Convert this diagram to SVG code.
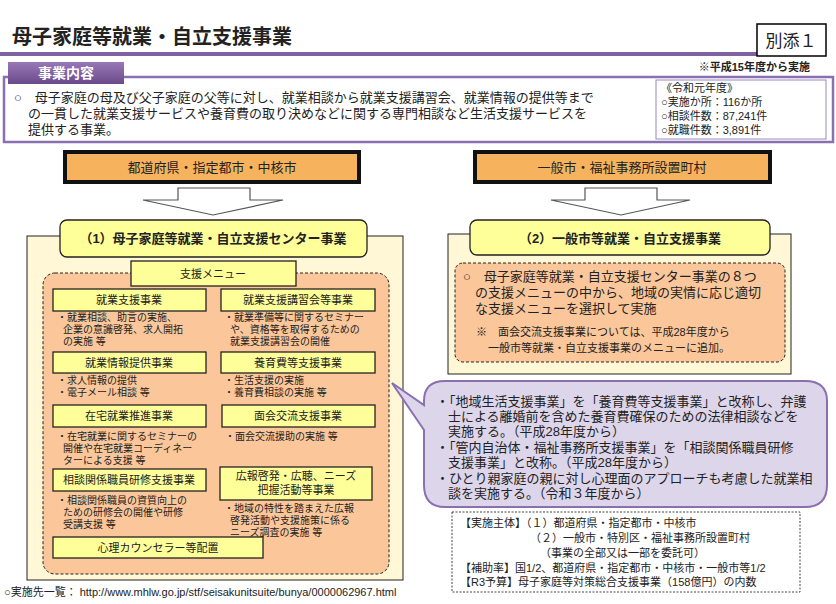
<svg xmlns="http://www.w3.org/2000/svg" width="836" height="604" viewBox="0 0 836 604">
<style>
text{font-family:"Liberation Sans","Noto Sans CJK JP",sans-serif;fill:#222}
.m{font-size:13px}
.s{font-size:10px}
.c{text-anchor:middle}
.yb{fill:#ffff99;stroke:#222;stroke-width:1.3}
.ob{fill:#f7b25e;stroke:#111;stroke-width:4}
.arr{fill:#fff;stroke:#555;stroke-width:1.2}
</style>
<defs>
<linearGradient id="tab" x1="0" y1="0" x2="0" y2="1"><stop offset="0" stop-color="#9a78b8"/><stop offset="1" stop-color="#6a4a8a"/></linearGradient>
</defs>
<rect width="836" height="604" fill="#fff"/>
<g id="title">
<text x="12" y="44" style="font-size:20px;font-weight:bold">母子家庭等就業・自立支援事業</text>
<rect x="0" y="52" width="760" height="4" fill="#8060a0"/>
<rect x="757" y="24" width="69" height="32" fill="#fff" stroke="#000" stroke-width="1.5"/>
<text x="791" y="47" class="c" style="font-size:17px">別添１</text>
</g>
<g id="overview">
<rect x="4" y="77" width="829" height="65" fill="#fff" stroke="#8a70b0" stroke-width="2.5"/>
<rect x="8" y="62" width="116" height="22" fill="url(#tab)"/>
<text x="66" y="78" class="c" style="font-size:14px;font-weight:bold;fill:#fff">事業内容</text>
<text x="810" y="71" style="font-size:11px;font-weight:bold;text-anchor:end">※平成15年度から実施</text>
<text x="14" y="102" class="m">○　母子家庭の母及び父子家庭の父等に対し、就業相談から就業支援講習会、就業情報の提供等まで</text>
<text x="28" y="118" class="m">の一貫した就業支援サービスや養育費の取り決めなどに関する専門相談など生活支援サービスを</text>
<text x="28" y="134" class="m">提供する事業。</text>
<rect x="656" y="80" width="170" height="59" fill="#fff" stroke="#9a88c0" stroke-width="1"/>
<text x="661" y="92" style="font-size:11px">《令和元年度》</text>
<text x="661" y="106" style="font-size:11px">○実施か所：116か所</text>
<text x="661" y="120" style="font-size:11px">○相談件数：87,241件</text>
<text x="661" y="134" style="font-size:11px">○就職件数：3,891件</text>
</g>
<g id="left-top">
<rect x="65" y="152" width="294" height="30" class="ob"/>
<text x="212" y="172" class="c m">都道府県・指定都市・中核市</text>
</g>
<g id="right-top">
<rect x="475" y="152" width="295" height="30" class="ob"/>
<text x="622" y="172" class="c m">一般市・福祉事務所設置町村</text>
</g>
<g id="connectors">
<polygon class="arr" points="178,188 250,188 250,200 283,200 213,215 143,200 178,200"/>
<polygon class="arr" points="585,188 657,188 657,200 690,200 621,215 551,200 585,200"/>
</g>
<g id="center">
<rect x="27" y="236" width="376" height="344" fill="#fff7d6" stroke="#222" stroke-width="1"/>
<rect x="60" y="220" width="307" height="37" rx="7" class="yb"/>
<text x="213" y="243" class="c" style="font-size:13px;font-weight:bold">（1）母子家庭等就業・自立支援センター事業</text>
<rect x="43" y="273" width="346" height="301" rx="12" fill="#fbc79a" stroke="#222" stroke-dasharray="3,2"/>
<rect x="131" y="261" width="165" height="25" class="yb"/>
<text x="213" y="278" class="c s" style="font-size:11px">支援メニュー</text>
<rect x="53" y="289" width="153" height="22" class="yb"/><text x="129" y="304" class="c s" style="font-size:11px">就業支援事業</text>
<text x="57" y="321" class="s">・就業相談、助言の実施、</text>
<text x="63" y="333" class="s">企業の意識啓発、求人開拓</text>
<text x="63" y="345" class="s">の実施 等</text>
<rect x="221" y="289" width="154" height="22" class="yb"/><text x="298" y="304" class="c s" style="font-size:11px">就業支援講習会等事業</text>
<text x="224" y="321" class="s">・就業準備等に関するセミナー</text>
<text x="230" y="333" class="s">や、資格等を取得するための</text>
<text x="230" y="345" class="s">就業支援講習会の開催</text>
<rect x="53" y="352" width="153" height="21" class="yb"/><text x="129" y="367" class="c s" style="font-size:11px">就業情報提供事業</text>
<text x="57" y="384" class="s">・求人情報の提供</text>
<text x="57" y="396" class="s">・電子メール相談 等</text>
<rect x="221" y="352" width="154" height="21" class="yb"/><text x="298" y="367" class="c s" style="font-size:11px">養育費等支援事業</text>
<text x="224" y="384" class="s">・生活支援の実施</text>
<text x="224" y="396" class="s">・養育費相談の実施 等</text>
<rect x="53" y="405" width="153" height="22" class="yb"/><text x="129" y="420" class="c s" style="font-size:11px">在宅就業推進事業</text>
<text x="57" y="440" class="s">・在宅就業に関するセミナーの</text>
<text x="63" y="452" class="s">開催や在宅就業コーディネー</text>
<text x="63" y="464" class="s">ターによる支援 等</text>
<rect x="222" y="405" width="153" height="22" class="yb"/><text x="298" y="420" class="c s" style="font-size:11px">面会交流支援事業</text>
<text x="225" y="440" class="s">・面会交流援助の実施 等</text>
<rect x="53" y="469" width="153" height="22" class="yb"/><text x="129" y="484" class="c s" style="font-size:11px">相談関係職員研修支援事業</text>
<text x="57" y="504" class="s">・相談関係職員の資質向上の</text>
<text x="63" y="516" class="s">ための研修会の開催や研修</text>
<text x="63" y="528" class="s">受講支援 等</text>
<rect x="220" y="467" width="152" height="33" class="yb"/>
<text x="296" y="480" class="c s" style="font-size:11px">広報啓発・広聴、ニーズ</text>
<text x="296" y="494" class="c s" style="font-size:11px">把握活動等事業</text>
<text x="224" y="512" class="s">・地域の特性を踏まえた広報</text>
<text x="230" y="524" class="s">啓発活動や支援施策に係る</text>
<text x="230" y="536" class="s">ニーズ調査の実施 等</text>
<rect x="53" y="537" width="210" height="21" class="yb"/><text x="158" y="552" class="c s" style="font-size:11px">心理カウンセラー等配置</text>
</g>
<g id="general">
<rect x="448" y="234" width="343" height="140" fill="#fff7d6" stroke="#222" stroke-width="1"/>
<rect x="470" y="220" width="300" height="35" rx="7" class="yb"/>
<text x="620" y="243" class="c" style="font-size:13px;font-weight:bold">（2）一般市等就業・自立支援事業</text>
<rect x="455" y="263" width="330" height="99" rx="8" fill="#fbc79a" stroke="#222" stroke-dasharray="3,2"/>
<text x="463" y="281" class="m">○　母子家庭等就業・自立支援センター事業の８つ</text>
<text x="475" y="297" class="m">の支援メニューの中から、地域の実情に応じ適切</text>
<text x="475" y="313" class="m">な支援メニューを選択して実施</text>
<text x="476" y="336" style="font-size:11px">※　面会交流支援事業については、平成28年度から</text>
<text x="488" y="352" style="font-size:11px">一般市等就業・自立支援事業のメニューに追加。</text>
</g>
<g id="bubble">
<path d="M445,381 H805 Q827,381 827,401 V485 Q827,507 805,507 H445 Q424,507 424,485 V430 L392,383 L424,405 V401 Q424,381 445,381 Z" fill="#ddd6ea" stroke="#8a70b0" stroke-width="2"/>
<text x="436" y="406" class="m">・「地域生活支援事業」を「養育費等支援事業」と改称し、弁護</text>
<text x="448" y="421" class="m">士による離婚前を含めた養育費確保のための法律相談などを</text>
<text x="448" y="436" class="m">実施する。（平成28年度から）</text>
<text x="436" y="452" class="m">・「管内自治体・福祉事務所支援事業」を「相談関係職員研修</text>
<text x="448" y="467" class="m">支援事業」と改称。（平成28年度から）</text>
<text x="436" y="483" class="m">・ひとり親家庭の親に対し心理面のアプローチも考慮した就業相</text>
<text x="448" y="498" class="m">談を実施する。（令和３年度から）</text>
</g>
<g id="info">
<rect x="452" y="512" width="348" height="80" fill="#fff" stroke="#444" stroke-dasharray="2,1.5"/>
<text x="460" y="527" style="font-size:11px">【実施主体】（１）都道府県・指定都市・中核市</text>
<text x="530" y="542" style="font-size:11px">（２）一般市・特別区・福祉事務所設置町村</text>
<text x="540" y="557" style="font-size:11px">（事業の全部又は一部を委託可）</text>
<text x="460" y="572" style="font-size:11px">【補助率】国1/2、都道府県・指定都市・中核市・一般市等1/2</text>
<text x="460" y="586" style="font-size:11px">【R3予算】母子家庭等対策総合支援事業（158億円）の内数</text>
</g>
<text x="4" y="596" style="font-size:11px">○実施先一覧： http://www.mhlw.go.jp/stf/seisakunitsuite/bunya/0000062967.html</text>
</svg>
